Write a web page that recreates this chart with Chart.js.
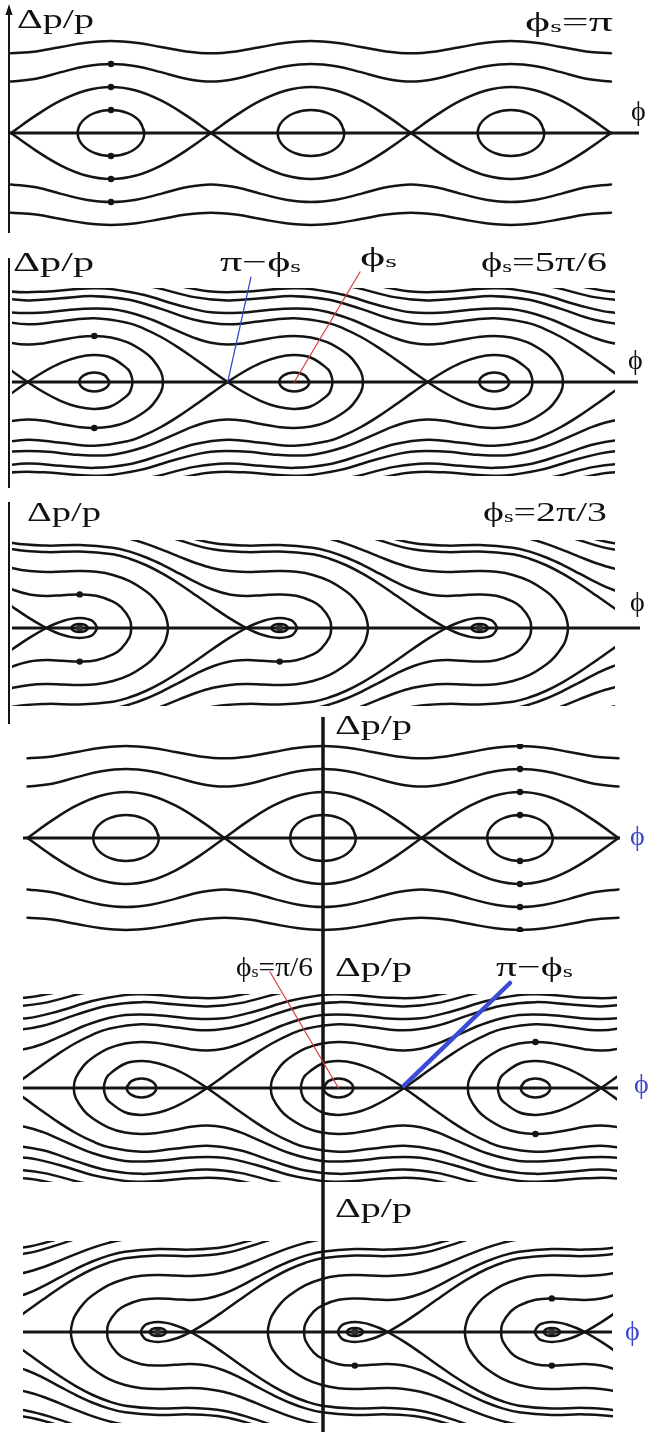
<!DOCTYPE html>
<html><head><meta charset="utf-8">
<script src="https://cdn.jsdelivr.net/npm/chart.js@4.4.1/dist/chart.umd.min.js"></script>
<style>
html,body{margin:0;padding:0;background:#fff;}
#wrap{position:relative;width:657px;height:1432px;overflow:hidden;background:#fff;}
#wrap canvas{position:absolute;left:0;}
.lbl{position:absolute;font-family:"Liberation Serif","Times New Roman",serif;color:#111;white-space:nowrap;line-height:1;transform-origin:0 0;z-index:5;font-size:28px;}
.lbl sub{font-size:0.62em;vertical-align:0;position:relative;top:0.05em;}
.blue{color:#3b48cf;}
</style></head><body>
<div id="wrap">
<div class="lbl" data-w="77" style="left:17px;top:5px">Δp/p</div>
<div class="lbl" data-w="88" style="left:525px;top:8px">ϕ<sub>s</sub>=π</div>
<div class="lbl" style="left:631px;top:97px">ϕ</div>
<div class="lbl" data-w="81" style="left:13px;top:248px">Δp/p</div>
<div class="lbl" data-w="81" style="left:220px;top:248px">π−ϕ<sub>s</sub></div>
<div class="lbl" data-w="37" style="left:360px;top:243px">ϕ<sub>s</sub></div>
<div class="lbl" data-w="126" style="left:481px;top:248px">ϕ<sub>s</sub>=5π/6</div>
<div class="lbl" style="left:628px;top:346px">ϕ</div>
<div class="lbl" data-w="74" style="left:27px;top:498px">Δp/p</div>
<div class="lbl" data-w="124" style="left:483px;top:498px">ϕ<sub>s</sub>=2π/3</div>
<div class="lbl" style="left:630px;top:588px">ϕ</div>
<div class="lbl" data-w="77" style="left:335px;top:711px">Δp/p</div>
<div class="lbl blue" style="left:630px;top:822px">ϕ</div>
<div class="lbl" data-w="77" style="left:236px;top:953px">ϕ<sub>s</sub>=π/6</div>
<div class="lbl" data-w="77" style="left:335px;top:953px">Δp/p</div>
<div class="lbl" data-w="77" style="left:496px;top:953px">π−ϕ<sub>s</sub></div>
<div class="lbl blue" style="left:634px;top:1070px">ϕ</div>
<div class="lbl" data-w="77" style="left:335px;top:1194px">Δp/p</div>
<div class="lbl blue" style="left:625px;top:1317px">ϕ</div>
</div>
<script>
// ---------- DATA: x = phi/pi, y = normalised Δp/p ----------
// Family A : phi_s = pi (panel 1) and phi_s = 0 (panel 4, same picture shifted by pi)
const A_top = [[0,3.464],[0.25,3.548],[0.5,3.742],[0.75,3.926],[1,4],[1.25,3.926],[1.5,3.742],[1.75,3.548],[2,3.464],[2.25,3.548],[2.5,3.742],[2.75,3.926],[3,4],[3.25,3.926],[3.5,3.742],[3.75,3.548],[4,3.464],[4.25,3.548],[4.5,3.742],[4.75,3.926],[5,4],[5.25,3.926],[5.5,3.742],[5.75,3.548],[6,3.464]];
const A_mid = [[0,2.236],[0.25,2.363],[0.5,2.646],[0.75,2.901],[1,3],[1.25,2.901],[1.5,2.646],[1.75,2.363],[2,2.236],[2.25,2.363],[2.5,2.646],[2.75,2.901],[3,3],[3.25,2.901],[3.5,2.646],[3.75,2.363],[4,2.236],[4.25,2.363],[4.5,2.646],[4.75,2.901],[5,3],[5.25,2.901],[5.5,2.646],[5.75,2.363],[6,2.236]];
const A_midLow = [[0,-2.236],[0.25,-2.363],[0.5,-2.646],[0.75,-2.901],[1,-3],[1.25,-2.901],[1.5,-2.646],[1.75,-2.363],[2,-2.236],[2.25,-2.363],[2.5,-2.646],[2.75,-2.901],[3,-3],[3.25,-2.901],[3.5,-2.646],[3.75,-2.363],[4,-2.236],[4.25,-2.363],[4.5,-2.646],[4.75,-2.901],[5,-3],[5.25,-2.901],[5.5,-2.646],[5.75,-2.363],[6,-2.236]];
const A_topLow = [[0,-3.464],[0.25,-3.548],[0.5,-3.742],[0.75,-3.926],[1,-4],[1.25,-3.926],[1.5,-3.742],[1.75,-3.548],[2,-3.464],[2.25,-3.548],[2.5,-3.742],[2.75,-3.926],[3,-4],[3.25,-3.926],[3.5,-3.742],[3.75,-3.548],[4,-3.464],[4.25,-3.548],[4.5,-3.742],[4.75,-3.926],[5,-4],[5.25,-3.926],[5.5,-3.742],[5.75,-3.548],[6,-3.464]];
const A_sepUp0 = [[0,0],[0.25,0.765],[0.5,1.414],[0.75,1.848],[1,2],[1.25,1.848],[1.5,1.414],[1.75,0.765],[2,0]];
const A_sepUp1 = [[2,0],[2.25,0.765],[2.5,1.414],[2.75,1.848],[3,2],[3.25,1.848],[3.5,1.414],[3.75,0.765],[4,0]];
const A_sepUp2 = [[4,0],[4.25,0.765],[4.5,1.414],[4.75,1.848],[5,2],[5.25,1.848],[5.5,1.414],[5.75,0.765],[6,0]];
const A_sepLo0 = [[0,0],[0.25,-0.765],[0.5,-1.414],[0.75,-1.848],[1,-2],[1.25,-1.848],[1.5,-1.414],[1.75,-0.765],[2,0]];
const A_sepLo1 = [[2,0],[2.25,-0.765],[2.5,-1.414],[2.75,-1.848],[3,-2],[3.25,-1.848],[3.5,-1.414],[3.75,-0.765],[4,0]];
const A_sepLo2 = [[4,0],[4.25,-0.765],[4.5,-1.414],[4.75,-1.848],[5,-2],[5.25,-1.848],[5.5,-1.414],[5.75,-0.765],[6,0]];
const A_isl1 = [[1.333,0],[1.289,0.5],[1.167,0.866],[1,1],[0.833,0.866],[0.711,0.5],[0.667,0],[0.711,-0.5],[0.833,-0.866],[1,-1],[1.167,-0.866],[1.289,-0.5],[1.333,0],[1.289,0.5]];
const A_isl3 = [[3.333,0],[3.289,0.5],[3.167,0.866],[3,1],[2.833,0.866],[2.711,0.5],[2.667,0],[2.711,-0.5],[2.833,-0.866],[3,-1],[3.167,-0.866],[3.289,-0.5],[3.333,0],[3.289,0.5]];
const A_isl5 = [[5.333,0],[5.289,0.5],[5.167,0.866],[5,1],[4.833,0.866],[4.711,0.5],[4.667,0],[4.711,-0.5],[4.833,-0.866],[5,-1],[5.167,-0.866],[5.289,-0.5],[5.333,0],[5.289,0.5]];
const A_dotsP1 = [[1,3],[1,2],[1,1],[1,-1],[1,-2],[1,-3]];
const A_dotsP4 = [[5,4],[5,3],[5,2],[5,1],[5,-1],[5,-2],[5,-3],[5,-4]];

// Family B : phi_s = 5pi/6 (panel 2) and phi_s = pi/6 (panel 5, mirror image)
const B_isl0 = [[0.983,0],[0.939,0.29],[0.833,0.41],[0.727,0.29],[0.683,0],[0.727,-0.29],[0.833,-0.41],[0.939,-0.29],[0.983,0],[0.939,0.29]];
const B_isl1 = [[2.983,0],[2.939,0.29],[2.833,0.41],[2.727,0.29],[2.683,0],[2.727,-0.29],[2.833,-0.41],[2.939,-0.29],[2.983,0],[2.939,0.29]];
const B_isl2 = [[4.983,0],[4.939,0.29],[4.833,0.41],[4.727,0.29],[4.683,0],[4.727,-0.29],[4.833,-0.41],[4.939,-0.29],[4.983,0],[4.939,0.29]];
const B_sep0 = [[-0.167,1.024],[0,0.506],[0.167,0],[0.333,-0.456],[0.5,-0.828],[0.667,-1.078],[0.833,-1.17],[1,-1.055],[1.167,-0.567],[1.197,-0.36],[1.215,0],[1.197,0.36],[1.167,0.567],[1,1.055],[0.833,1.17],[0.667,1.078],[0.5,0.828],[0.333,0.456],[0.167,0],[0,-0.506],[-0.167,-1.024]];
const B_sep1 = [[-0.167,2.708],[0.167,2.507],[0.5,2.64],[0.833,2.767],[1.167,2.57],[1.333,2.313],[1.5,1.957],[1.667,1.518],[1.833,1.024],[2,0.506],[2.167,0],[2.333,-0.456],[2.5,-0.828],[2.667,-1.078],[2.833,-1.17],[3,-1.055],[3.167,-0.567],[3.197,-0.36],[3.215,0],[3.197,0.36],[3.167,0.567],[3,1.055],[2.833,1.17],[2.667,1.078],[2.5,0.828],[2.333,0.456],[2.167,0],[2,-0.506],[1.833,-1.024],[1.667,-1.518],[1.5,-1.957],[1.333,-2.313],[1.167,-2.57],[0.833,-2.767],[0.5,-2.64],[0.167,-2.507],[-0.167,-2.708]];
const B_sep2 = [[-0.167,3.69],[0.167,3.545],[0.5,3.641],[0.833,3.733],[1.167,3.59],[1.5,3.18],[1.833,2.708],[2.167,2.507],[2.5,2.64],[2.833,2.767],[3.167,2.57],[3.333,2.313],[3.5,1.957],[3.667,1.518],[3.833,1.024],[4,0.506],[4.167,0],[4.333,-0.456],[4.5,-0.828],[4.667,-1.078],[4.833,-1.17],[5,-1.055],[5.167,-0.567],[5.197,-0.36],[5.215,0],[5.197,0.36],[5.167,0.567],[5,1.055],[4.833,1.17],[4.667,1.078],[4.5,0.828],[4.333,0.456],[4.167,0],[4,-0.506],[3.833,-1.024],[3.667,-1.518],[3.5,-1.957],[3.333,-2.313],[3.167,-2.57],[2.833,-2.767],[2.5,-2.64],[2.167,-2.507],[1.833,-2.708],[1.5,-3.18],[1.167,-3.59],[0.833,-3.733],[0.5,-3.641],[0.167,-3.545],[-0.167,-3.69]];
const B_sep3a = [[1.167,4.378],[1.5,4.049],[1.833,3.69],[2.167,3.545],[2.5,3.641],[2.833,3.733],[3.167,3.59],[3.5,3.18],[3.833,2.708],[4.167,2.507],[4.5,2.64],[4.833,2.767],[5.167,2.57],[5.333,2.313],[5.5,1.957],[5.667,1.518],[5.833,1.024],[6,0.506],[6.167,0],[6.333,-0.456],[6.5,-0.828],[6.667,-1.078]];
const B_sep3b = [[6.667,1.078],[6.5,0.828],[6.333,0.456],[6.167,0],[6,-0.506],[5.833,-1.024],[5.667,-1.518],[5.5,-1.957],[5.333,-2.313],[5.167,-2.57],[4.833,-2.767],[4.5,-2.64],[4.167,-2.507],[3.833,-2.708],[3.5,-3.18],[3.167,-3.59],[2.833,-3.733],[2.5,-3.641],[2.167,-3.545],[1.833,-3.69],[1.5,-4.049],[1.167,-4.378]];
const B_sep4Up = [[3.167,4.378],[3.5,4.049],[3.833,3.69],[4.167,3.545],[4.5,3.641],[4.833,3.733],[5.167,3.59],[5.5,3.18],[5.833,2.708],[6.167,2.507],[6.5,2.64]];
const B_sep4Lo = [[3.167,-4.378],[3.5,-4.049],[3.833,-3.69],[4.167,-3.545],[4.5,-3.641],[4.833,-3.733],[5.167,-3.59],[5.5,-3.18],[5.833,-2.708],[6.167,-2.507],[6.5,-2.64]];
const B_sep5Up = [[5.167,4.378],[5.5,4.049],[5.833,3.69],[6.167,3.545],[6.5,3.641]];
const B_sep5Lo = [[5.167,-4.378],[5.5,-4.049],[5.833,-3.69],[6.167,-3.545],[6.5,-3.641]];
const B_c0 = [[-0.167,1.921],[0,1.703],[0.167,1.626],[0.333,1.689],[0.5,1.825],[0.667,1.951],[0.833,2.003],[1,1.939],[1.167,1.722],[1.333,1.308],[1.417,0.984],[1.5,0.434],[1.52,0],[1.5,-0.434],[1.417,-0.984],[1.333,-1.308],[1.167,-1.722],[1,-1.939],[0.833,-2.003],[0.667,-1.951],[0.5,-1.825],[0.333,-1.689],[0.167,-1.626],[0,-1.703],[-0.167,-1.921]];
const B_c1 = [[-0.333,3.351],[0,3.031],[0.333,3.023],[0.667,3.167],[1,3.169],[1.333,2.828],[1.667,2.224],[1.833,1.921],[2,1.703],[2.167,1.626],[2.333,1.689],[2.5,1.825],[2.667,1.951],[2.833,2.003],[3,1.939],[3.167,1.722],[3.333,1.308],[3.417,0.984],[3.5,0.434],[3.52,0],[3.5,-0.434],[3.417,-0.984],[3.333,-1.308],[3.167,-1.722],[3,-1.939],[2.833,-2.003],[2.667,-1.951],[2.5,-1.825],[2.333,-1.689],[2.167,-1.626],[2,-1.703],[1.833,-1.921],[1.667,-2.224],[1.333,-2.828],[1,-3.169],[0.667,-3.167],[0.333,-3.023],[0,-3.031],[-0.333,-3.351]];
const B_c2 = [[-0.333,4.185],[0,3.933],[0.333,3.927],[0.667,4.046],[0.833,4.072],[1,4.041],[1.333,3.779],[1.667,3.351],[2,3.031],[2.333,3.023],[2.667,3.167],[3,3.169],[3.333,2.828],[3.667,2.224],[3.833,1.921],[4,1.703],[4.167,1.626],[4.333,1.689],[4.5,1.825],[4.667,1.951],[4.833,2.003],[5,1.939],[5.167,1.722],[5.333,1.308],[5.417,0.984],[5.5,0.434],[5.52,0],[5.5,-0.434],[5.417,-0.984],[5.333,-1.308],[5.167,-1.722],[5,-1.939],[4.833,-2.003],[4.667,-1.951],[4.5,-1.825],[4.333,-1.689],[4.167,-1.626],[4,-1.703],[3.833,-1.921],[3.667,-2.224],[3.333,-2.828],[3,-3.169],[2.667,-3.167],[2.333,-3.023],[2,-3.031],[1.667,-3.351],[1.333,-3.779],[1,-4.041],[0.833,-4.072],[0.667,-4.046],[0.333,-3.927],[0,-3.933],[-0.333,-4.185]];
const B_c3Up = [[1.667,4.185],[2,3.933],[2.333,3.927],[2.667,4.046],[2.833,4.072],[3,4.041],[3.333,3.779],[3.667,3.351],[4,3.031],[4.333,3.023],[4.667,3.167],[5,3.169],[5.333,2.828],[5.667,2.224],[5.833,1.921],[6,1.703],[6.167,1.626],[6.333,1.689]];
const B_c3Lo = [[1.667,-4.185],[2,-3.933],[2.333,-3.927],[2.667,-4.046],[2.833,-4.072],[3,-4.041],[3.333,-3.779],[3.667,-3.351],[4,-3.031],[4.333,-3.023],[4.667,-3.167],[5,-3.169],[5.333,-2.828],[5.667,-2.224],[5.833,-1.921],[6,-1.703],[6.167,-1.626],[6.333,-1.689]];
const B_c4Up = [[3.667,4.185],[4,3.933],[4.333,3.927],[4.667,4.046],[4.833,4.072],[5,4.041],[5.333,3.779],[5.667,3.351],[6,3.031],[6.333,3.023]];
const B_c4Lo = [[3.667,-4.185],[4,-3.933],[4.333,-3.927],[4.667,-4.046],[4.833,-4.072],[5,-4.041],[5.333,-3.779],[5.667,-3.351],[6,-3.031],[6.333,-3.023]];
const B_c5Up = [[5.667,4.185],[6,3.933],[6.333,3.927]];
const B_c5Lo = [[5.667,-4.185],[6,-3.933],[6.333,-3.927]];
const B_dots = [[0.833,2.003],[0.833,-2.003]];

// Family C : phi_s = 2pi/3 (panel 3) and phi_s = pi/3 (panel 6, mirror image)
const C_sep0 = [[-0.167,1.411],[0,0.902],[0.167,0.42],[0.333,0],[0.417,-0.173],[0.5,-0.307],[0.583,-0.397],[0.667,-0.431],[0.75,-0.385],[0.8,-0.283],[0.837,0],[0.8,0.283],[0.75,0.385],[0.667,0.431],[0.583,0.397],[0.5,0.307],[0.417,0.173],[0.333,0],[0.167,-0.42],[0,-0.902],[-0.167,-1.411]];
const C_sep1 = [[-0.333,3.809],[0,3.42],[0.333,3.299],[0.667,3.327],[1,3.202],[1.167,3.013],[1.333,2.728],[1.5,2.352],[1.667,1.905],[1.833,1.411],[2,0.902],[2.167,0.42],[2.333,0],[2.417,-0.173],[2.5,-0.307],[2.583,-0.397],[2.667,-0.431],[2.75,-0.385],[2.8,-0.283],[2.837,0],[2.8,0.283],[2.75,0.385],[2.667,0.431],[2.583,0.397],[2.5,0.307],[2.417,0.173],[2.333,0],[2.167,-0.42],[2,-0.902],[1.833,-1.411],[1.667,-1.905],[1.5,-2.352],[1.333,-2.728],[1.167,-3.013],[1,-3.202],[0.667,-3.327],[0.333,-3.299],[0,-3.42],[-0.333,-3.809]];
const C_sep2 = [[1.333,4.28],[1.5,4.052],[1.667,3.809],[2,3.42],[2.333,3.299],[2.667,3.327],[3,3.202],[3.167,3.013],[3.333,2.728],[3.5,2.352],[3.667,1.905],[3.833,1.411],[4,0.902],[4.167,0.42],[4.333,0],[4.417,-0.173],[4.5,-0.307],[4.583,-0.397],[4.667,-0.431],[4.75,-0.385],[4.8,-0.283],[4.837,0],[4.8,0.283],[4.75,0.385],[4.667,0.431],[4.583,0.397],[4.5,0.307],[4.417,0.173],[4.333,0],[4.167,-0.42],[4,-0.902],[3.833,-1.411],[3.667,-1.905],[3.5,-2.352],[3.333,-2.728],[3.167,-3.013],[3,-3.202],[2.667,-3.327],[2.333,-3.299],[2,-3.42],[1.667,-3.809],[1.5,-4.052],[1.333,-4.28]];
const C_sep3a = [[3.333,4.28],[3.5,4.052],[3.667,3.809],[4,3.42],[4.333,3.299],[4.667,3.327],[5,3.202],[5.167,3.013],[5.333,2.728],[5.5,2.352],[5.667,1.905],[5.833,1.411],[6,0.902],[6.167,0.42],[6.333,0],[6.417,-0.173],[6.5,-0.307]];
const C_sep3b = [[6.5,0.307],[6.417,0.173],[6.333,0],[6.167,-0.42],[6,-0.902],[5.833,-1.411],[5.667,-1.905],[5.5,-2.352],[5.333,-2.728],[5.167,-3.013],[5,-3.202],[4.667,-3.327],[4.333,-3.299],[4,-3.42],[3.667,-3.809],[3.5,-4.052],[3.333,-4.28]];
const C_sep4Up = [[5.333,4.28],[5.5,4.052],[5.667,3.809],[6,3.42],[6.333,3.299]];
const C_sep4Lo = [[5.333,-4.28],[5.5,-4.052],[5.667,-3.809],[6,-3.42],[6.333,-3.299]];
const C_blob0 = [[0.75,0],[0.725,0.12],[0.667,0.17],[0.608,0.12],[0.583,0],[0.608,-0.12],[0.667,-0.17],[0.725,-0.12],[0.75,0],[0.725,0.12]];
const C_blob1 = [[2.75,0],[2.725,0.12],[2.667,0.17],[2.608,0.12],[2.583,0],[2.608,-0.12],[2.667,-0.17],[2.725,-0.12],[2.75,0],[2.725,0.12]];
const C_blob2 = [[4.75,0],[4.725,0.12],[4.667,0.17],[4.608,0.12],[4.583,0],[4.608,-0.12],[4.667,-0.17],[4.725,-0.12],[4.75,0],[4.725,0.12]];
const C_c1_0 = [[-0.167,1.984],[0,1.661],[0.167,1.457],[0.333,1.395],[0.5,1.428],[0.667,1.46],[0.833,1.399],[1,1.148],[1.083,0.893],[1.167,0.379],[1.182,0],[1.167,-0.379],[1.083,-0.893],[1,-1.148],[0.833,-1.399],[0.667,-1.46],[0.5,-1.428],[0.333,-1.395],[0.167,-1.457],[0,-1.661],[-0.167,-1.984]];
const C_c1_1 = [[-0.333,4.057],[0,3.694],[0.333,3.582],[0.667,3.608],[1,3.493],[1.167,3.321],[1.333,3.064],[1.5,2.735],[1.667,2.361],[1.833,1.984],[2,1.661],[2.167,1.457],[2.333,1.395],[2.5,1.428],[2.667,1.46],[2.833,1.399],[3,1.148],[3.083,0.893],[3.167,0.379],[3.182,0],[3.167,-0.379],[3.083,-0.893],[3,-1.148],[2.833,-1.399],[2.667,-1.46],[2.5,-1.428],[2.333,-1.395],[2.167,-1.457],[2,-1.661],[1.833,-1.984],[1.667,-2.361],[1.5,-2.735],[1.333,-3.064],[1.167,-3.321],[1,-3.493],[0.667,-3.608],[0.333,-3.582],[0,-3.694],[-0.333,-4.057]];
const C_c1_2 = [[1.333,4.5],[1.667,4.057],[2,3.694],[2.333,3.582],[2.667,3.608],[3,3.493],[3.167,3.321],[3.333,3.064],[3.5,2.735],[3.667,2.361],[3.833,1.984],[4,1.661],[4.167,1.457],[4.333,1.395],[4.5,1.428],[4.667,1.46],[4.833,1.399],[5,1.148],[5.083,0.893],[5.167,0.379],[5.182,0],[5.167,-0.379],[5.083,-0.893],[5,-1.148],[4.833,-1.399],[4.667,-1.46],[4.5,-1.428],[4.333,-1.395],[4.167,-1.457],[4,-1.661],[3.833,-1.984],[3.667,-2.361],[3.5,-2.735],[3.333,-3.064],[3.167,-3.321],[3,-3.493],[2.667,-3.608],[2.333,-3.582],[2,-3.694],[1.667,-4.057],[1.333,-4.5]];
const C_c1_3Up = [[3.333,4.5],[3.667,4.057],[4,3.694],[4.333,3.582],[4.667,3.608],[5,3.493],[5.167,3.321],[5.333,3.064],[5.5,2.735],[5.667,2.361],[5.833,1.984],[6,1.661],[6.167,1.457],[6.333,1.395]];
const C_c1_3Lo = [[3.333,-4.5],[3.667,-4.057],[4,-3.694],[4.333,-3.582],[4.667,-3.608],[5,-3.493],[5.167,-3.321],[5.333,-3.064],[5.5,-2.735],[5.667,-2.361],[5.833,-1.984],[6,-1.661],[6.167,-1.457],[6.333,-1.395]];
const C_c1_4Up = [[5.333,4.5],[5.667,4.057],[6,3.694],[6.333,3.582]];
const C_c1_4Lo = [[5.333,-4.5],[5.667,-4.057],[6,-3.694],[6.333,-3.582]];
const C_c2_0 = [[-0.167,2.817],[0,2.6],[0.167,2.474],[0.333,2.438],[0.5,2.458],[0.667,2.476],[0.833,2.441],[1,2.306],[1.167,2.036],[1.333,1.583],[1.417,1.253],[1.5,0.773],[1.53,0.48],[1.55,0],[1.53,-0.48],[1.5,-0.773],[1.417,-1.253],[1.333,-1.583],[1.167,-2.036],[1,-2.306],[0.833,-2.441],[0.667,-2.476],[0.5,-2.458],[0.333,-2.438],[0.167,-2.474],[0,-2.6],[-0.167,-2.817]];
const C_c2_1 = [[0,4.2],[0.333,4.102],[0.667,4.125],[1,4.025],[1.167,3.876],[1.333,3.659],[1.5,3.388],[1.667,3.094],[1.833,2.817],[2,2.6],[2.167,2.474],[2.333,2.438],[2.5,2.458],[2.667,2.476],[2.833,2.441],[3,2.306],[3.167,2.036],[3.333,1.583],[3.417,1.253],[3.5,0.773],[3.53,0.48],[3.55,0],[3.53,-0.48],[3.5,-0.773],[3.417,-1.253],[3.333,-1.583],[3.167,-2.036],[3,-2.306],[2.833,-2.441],[2.667,-2.476],[2.5,-2.458],[2.333,-2.438],[2.167,-2.474],[2,-2.6],[1.833,-2.817],[1.667,-3.094],[1.5,-3.388],[1.333,-3.659],[1.167,-3.876],[1,-4.025],[0.667,-4.125],[0.333,-4.102],[0,-4.2]];
const C_c2_2 = [[2.333,4.102],[2.667,4.125],[3,4.025],[3.167,3.876],[3.333,3.659],[3.5,3.388],[3.667,3.094],[3.833,2.817],[4,2.6],[4.167,2.474],[4.333,2.438],[4.5,2.458],[4.667,2.476],[4.833,2.441],[5,2.306],[5.167,2.036],[5.333,1.583],[5.417,1.253],[5.5,0.773],[5.53,0.48],[5.55,0],[5.53,-0.48],[5.5,-0.773],[5.417,-1.253],[5.333,-1.583],[5.167,-2.036],[5,-2.306],[4.833,-2.441],[4.667,-2.476],[4.5,-2.458],[4.333,-2.438],[4.167,-2.474],[4,-2.6],[3.833,-2.817],[3.667,-3.094],[3.5,-3.388],[3.333,-3.659],[3.167,-3.876],[3,-4.025],[2.667,-4.125],[2.333,-4.102]];
const C_c2_3Up = [[4.333,4.102],[4.667,4.125],[5,4.025],[5.167,3.876],[5.333,3.659],[5.5,3.388],[5.667,3.094],[5.833,2.817],[6,2.6],[6.167,2.474],[6.333,2.438]];
const C_c2_3Lo = [[4.333,-4.102],[4.667,-4.125],[5,-4.025],[5.167,-3.876],[5.333,-3.659],[5.5,-3.388],[5.667,-3.094],[5.833,-2.817],[6,-2.6],[6.167,-2.474],[6.333,-2.438]];
const C_dots = [[0.667,1.46],[0.667,-1.46],[2.667,-1.46]];
const C_cores = [[0.667,0],[2.667,0],[4.667,0]];

// ---------- LAYOUT (pixels) ----------
const INK = '#141414';
const PANELS = {
  p1:{top:0,   h:240, axisY:133,  x0:11,    sx:100,   L:8,  R:614, T:30,   B:236,  hAxis:[9,639],  vx:9,   v:[8,233],    vw:2,   arrow:true},
  p2:{top:240, h:250, axisY:382,  x0:11,    sx:100,   L:12, R:615, T:288,  B:476,  hAxis:[12,638], vx:9,   v:[258,488],  vw:2},
  p3:{top:490, h:235, axisY:628,  x0:13,    sx:100,   L:12, R:615, T:540,  B:706,  hAxis:[12,640], vx:9,   v:[502,724],  vw:2},
  p4:{top:715, h:240, axisY:838,  x0:27.5,  sx:98.5,  L:21, R:621, T:744,  B:932,  hAxis:[23,620], vx:323, v:[717,955],  vw:3.5},
  p5:{top:955, h:240, axisY:1088, x0:617.5, sx:-98.5, L:23, R:617, T:994,  B:1182, hAxis:[23,618], vx:323, v:[955,1195], vw:3.5},
  p6:{top:1195,h:237, axisY:1332, x0:617.5, sx:-98.5, L:23, R:613, T:1241, B:1423, hAxis:[23,612], vx:323, v:[1195,1432],vw:3.5}
};
const Y_PX = 23;

function frame(cfg, notes){
  return {
    id:'frame',
    beforeDatasetsDraw(chart){
      const c = chart.ctx, y0 = chart.scales.y.getPixelForValue(0);
      c.save(); c.strokeStyle = INK; c.fillStyle = INK;
      c.lineWidth = 2.8; c.beginPath(); c.moveTo(cfg.hAxis[0], y0); c.lineTo(cfg.hAxis[1], y0); c.stroke();
      c.lineWidth = cfg.vw; c.beginPath(); c.moveTo(cfg.vx, cfg.v[0]-cfg.top); c.lineTo(cfg.vx, cfg.v[1]-cfg.top); c.stroke();
      if (cfg.arrow){ const t = cfg.v[0]-cfg.top; c.beginPath(); c.moveTo(cfg.vx, t-4); c.lineTo(cfg.vx-3.5, t+7); c.lineTo(cfg.vx+3.5, t+7); c.closePath(); c.fill(); }
      c.restore();
    },
    afterDatasetsDraw(chart){
      if (!notes) return;
      const c = chart.ctx; c.save(); c.lineCap='round';
      notes.forEach(n => {
        const fx = chart.scales.x.getPixelForValue(n.at[0]), fy = chart.scales.y.getPixelForValue(n.at[1]);
        c.strokeStyle = n.color; c.lineWidth = n.w;
        c.beginPath(); c.moveTo(n.to[0], n.to[1]-cfg.top); c.lineTo(fx, fy); c.stroke();
      });
      c.restore();
    }
  };
}

function panel(cfg, curves, dots, cores, notes){
  const wrap = document.getElementById('wrap');
  const cv = document.createElement('canvas');
  cv.width = 657; cv.height = cfg.h; cv.style.top = cfg.top + 'px';
  cv.style.width = '657px'; cv.style.height = cfg.h + 'px';
  wrap.appendChild(cv);
  const xa = (cfg.L - cfg.x0) / cfg.sx, xb = (cfg.R - cfg.x0) / cfg.sx;
  const ds = curves.map(cu => ({data: cu.map(p => ({x:p[0], y:p[1]})), showLine:true, borderColor:INK,
    borderWidth: 2.5, pointRadius:0, tension:0.4, fill:false}));
  if (dots) ds.push({data: dots.map(p => ({x:p[0], y:p[1]})), showLine:false, pointRadius:3.2,
    pointBackgroundColor:INK, pointBorderWidth:0});
  if (cores) ds.push({data: cores.map(p => ({x:p[0], y:p[1]})), showLine:false, pointRadius:3.6,
    pointBackgroundColor:'#333', pointBorderWidth:0});
  new Chart(cv, {
    type:'scatter',
    data:{datasets:ds},
    options:{
      responsive:false, animation:false, events:[], devicePixelRatio:1,
      layout:{padding:{left:cfg.L, right:657-cfg.R, top:cfg.T-cfg.top, bottom:cfg.top+cfg.h-cfg.B}},
      scales:{
        x:{type:'linear', display:false, min:Math.min(xa,xb), max:Math.max(xa,xb), reverse: cfg.sx < 0},
        y:{type:'linear', display:false, min:-(cfg.B-cfg.axisY)/Y_PX, max:(cfg.axisY-cfg.T)/Y_PX}
      },
      elements:{line:{capBezierPoints:false, borderCapStyle:'round', borderJoinStyle:'round'}},
      plugins:{legend:{display:false}, tooltip:{enabled:false}}
    },
    plugins:[frame(cfg, notes)]
  });
}

const famA = [A_top, A_mid, A_midLow, A_topLow, A_sepUp0, A_sepUp1, A_sepUp2, A_sepLo0, A_sepLo1, A_sepLo2, A_isl1, A_isl3, A_isl5];
const famB = [B_isl0, B_isl1, B_isl2, B_sep0, B_sep1, B_sep2, B_sep3a, B_sep3b, B_sep4Up, B_sep4Lo, B_sep5Up, B_sep5Lo,
              B_c0, B_c1, B_c2, B_c3Up, B_c3Lo, B_c4Up, B_c4Lo, B_c5Up, B_c5Lo];
const famC = [C_sep0, C_sep1, C_sep2, C_sep3a, C_sep3b, C_sep4Up, C_sep4Lo, C_blob0, C_blob1, C_blob2,
              C_c1_0, C_c1_1, C_c1_2, C_c1_3Up, C_c1_3Lo, C_c1_4Up, C_c1_4Lo, C_c2_0, C_c2_1, C_c2_2, C_c2_3Up, C_c2_3Lo];

panel(PANELS.p1, famA, A_dotsP1);
panel(PANELS.p2, famB, B_dots, null, [
  {at:[2.167,0], to:[251,277], color:'#3344cc', w:1.2},
  {at:[2.833,0], to:[360,272], color:'#d43c3c', w:1.2}]);
panel(PANELS.p3, famC, C_dots, C_cores);
panel(PANELS.p4, famA, A_dotsP4);
panel(PANELS.p5, famB, B_dots, null, [
  {at:[2.833,0], to:[270,972], color:'#d43c3c', w:1.2},
  {at:[2.167,0.1], to:[510,983], color:'#3a4bd6', w:4.5}]);
panel(PANELS.p6, famC, C_dots, C_cores);

// fit each label to the width it has in the figure
function fitLabels(){
  document.querySelectorAll('.lbl[data-w]').forEach(el => {
    el.style.transform = 'none';
    const w = el.getBoundingClientRect().width;
    if (w > 0) el.style.transform = 'scaleX(' + (parseFloat(el.dataset.w) / w).toFixed(3) + ')';
  });
}
fitLabels();
if (document.fonts && document.fonts.ready) document.fonts.ready.then(fitLabels);
</script>
</body></html>
